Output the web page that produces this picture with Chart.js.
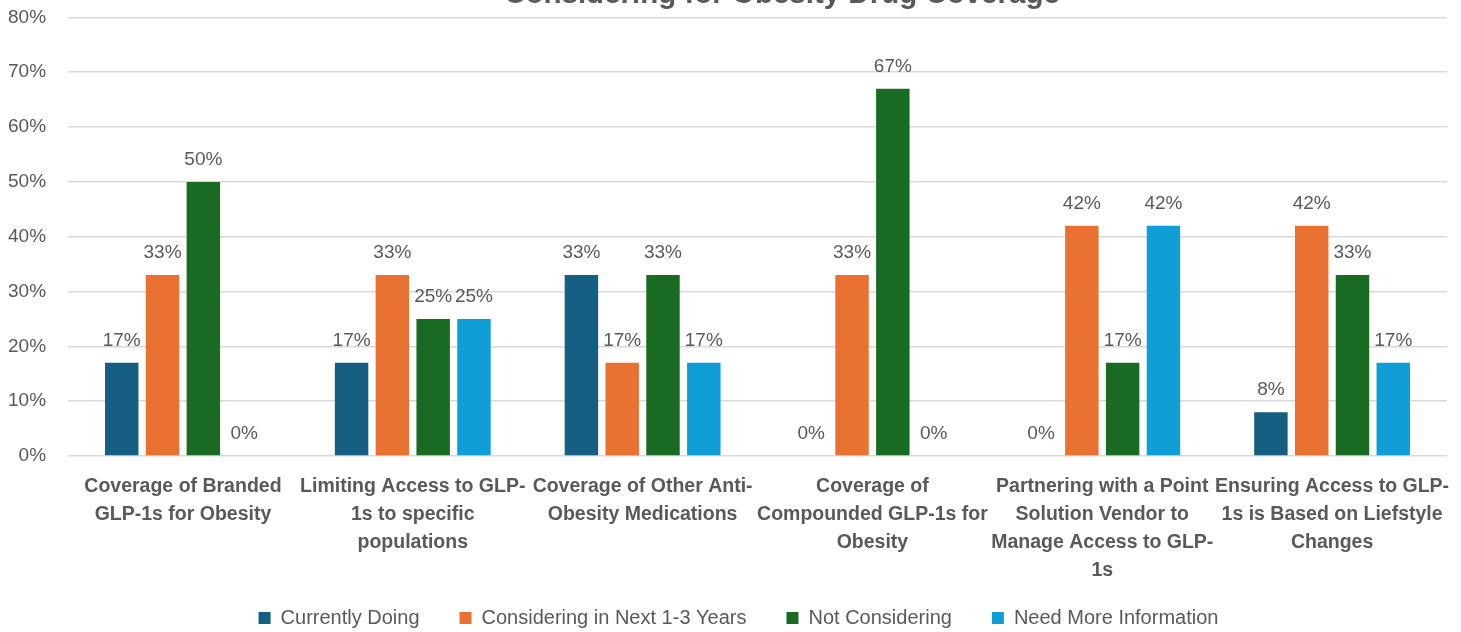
<!DOCTYPE html>
<html>
<head>
<meta charset="utf-8">
<script src="https://cdn.jsdelivr.net/npm/chart.js@4.4.1/dist/chart.umd.min.js"></script>
<style>
  html, body { margin: 0; padding: 0; background: #fff; overflow: hidden; }
  #wrap { width: 1461px; height: 632px; position: relative; overflow: hidden; }
  #box { position: absolute; left: -18px; top: -16px; width: 1479px; height: 658px; }
</style>
</head>
<body>
<div id="wrap"><div id="box"><canvas id="myChart"></canvas></div></div>
<script>
var categorias = [
  ['Coverage of Branded', 'GLP-1s for Obesity'],
  ['Limiting Access to GLP-', '1s to specific', 'populations'],
  ['Coverage of Other Anti-', 'Obesity Medications'],
  ['Coverage of', 'Compounded GLP-1s for', 'Obesity'],
  ['Partnering with a Point', 'Solution Vendor to', 'Manage Access to GLP-', '1s'],
  ['Ensuring Access to GLP-', '1s is Based on Liefstyle', 'Changes']
]
var currentlyDoing = [17, 17, 33, 0, 0, 8]
var consideringNext = [33, 33, 17, 33, 42, 42]
var notConsidering = [50, 25, 33, 67, 17, 33]
var needMoreInfo = [0, 25, 17, 0, 42, 17]
var tituloTexto = 'Considering for Obesity Drug Coverage'

var cinza = '#595959'
var fonte = '"Liberation Sans", Arial, sans-serif'

// rotulos em cima das barras + titulo (cortado no topo como na imagem)
var rotulosPlugin = {
  id: 'rotulos',
  afterLayout: function (chart) {
    // deixa a ultima linha dos rotulos do eixo x aparecer e centraliza a legenda
    chart.scales.x.bottom = chart.height
    chart.legend.left += 22
    chart.legend.right += 22
  },
  afterDatasetsDraw: function (chart) {
    var c = chart.ctx
    c.save()
    c.fillStyle = cinza
    c.font = '19px ' + fonte
    c.textAlign = 'center'
    c.textBaseline = 'alphabetic'
    chart.data.datasets.forEach(function (ds, i) {
      var meta = chart.getDatasetMeta(i)
      meta.data.forEach(function (bar, j) {
        c.fillText(ds.data[j] + '%', bar.x, bar.y - 17)
      })
    })
    c.font = 'bold 29.5px ' + fonte
    c.fillText(tituloTexto, 800, 19)
    c.restore()
  }
}

const ctx = document.getElementById('myChart')

var grafico = new Chart(ctx, {
  type: 'bar',
  data: {
    labels: categorias,
    datasets: [
      { label: 'Currently Doing', data: currentlyDoing, backgroundColor: '#156082' },
      { label: 'Considering in Next 1-3 Years', data: consideringNext, backgroundColor: '#E97132' },
      { label: 'Not Considering', data: notConsidering, backgroundColor: '#196B24' },
      { label: 'Need More Information', data: needMoreInfo, backgroundColor: '#0F9ED5' }
    ]
  },
  options: {
    responsive: true,
    maintainAspectRatio: false,
    animation: false,
    layout: { padding: { top: 9, right: 14, left: 4, bottom: 4 } },
    datasets: {
      bar: { categoryPercentage: 0.71, barPercentage: 0.82 }
    },
    plugins: {
      legend: {
        position: 'bottom',
        labels: {
          boxWidth: 12,
          boxHeight: 12,
          padding: 40,
          color: cinza,
          font: { family: fonte, size: 20 }
        }
      },
      tooltip: { enabled: false }
    },
    scales: {
      x: {
        grid: { display: false, drawTicks: false },
        border: { display: false },
        afterFit: function (s) {
          s.height = 112
          s.paddingLeft = 0
          s.paddingRight = 0
        },
        ticks: {
          color: cinza,
          padding: 17,
          maxRotation: 0,
          autoSkip: false,
          font: { family: fonte, size: 19.5, weight: 'bold', lineHeight: 1.436 }
        }
      },
      y: {
        min: 0,
        max: 80,
        border: { display: false },
        grid: { color: '#d9d9d9', lineWidth: 1.5, drawTicks: false },
        ticks: {
          stepSize: 10,
          color: cinza,
          padding: 22,
          font: { family: fonte, size: 19 },
          callback: function (v) { return v + '%' }
        }
      }
    }
  },
  plugins: [rotulosPlugin]
})
</script>
</body>
</html>
